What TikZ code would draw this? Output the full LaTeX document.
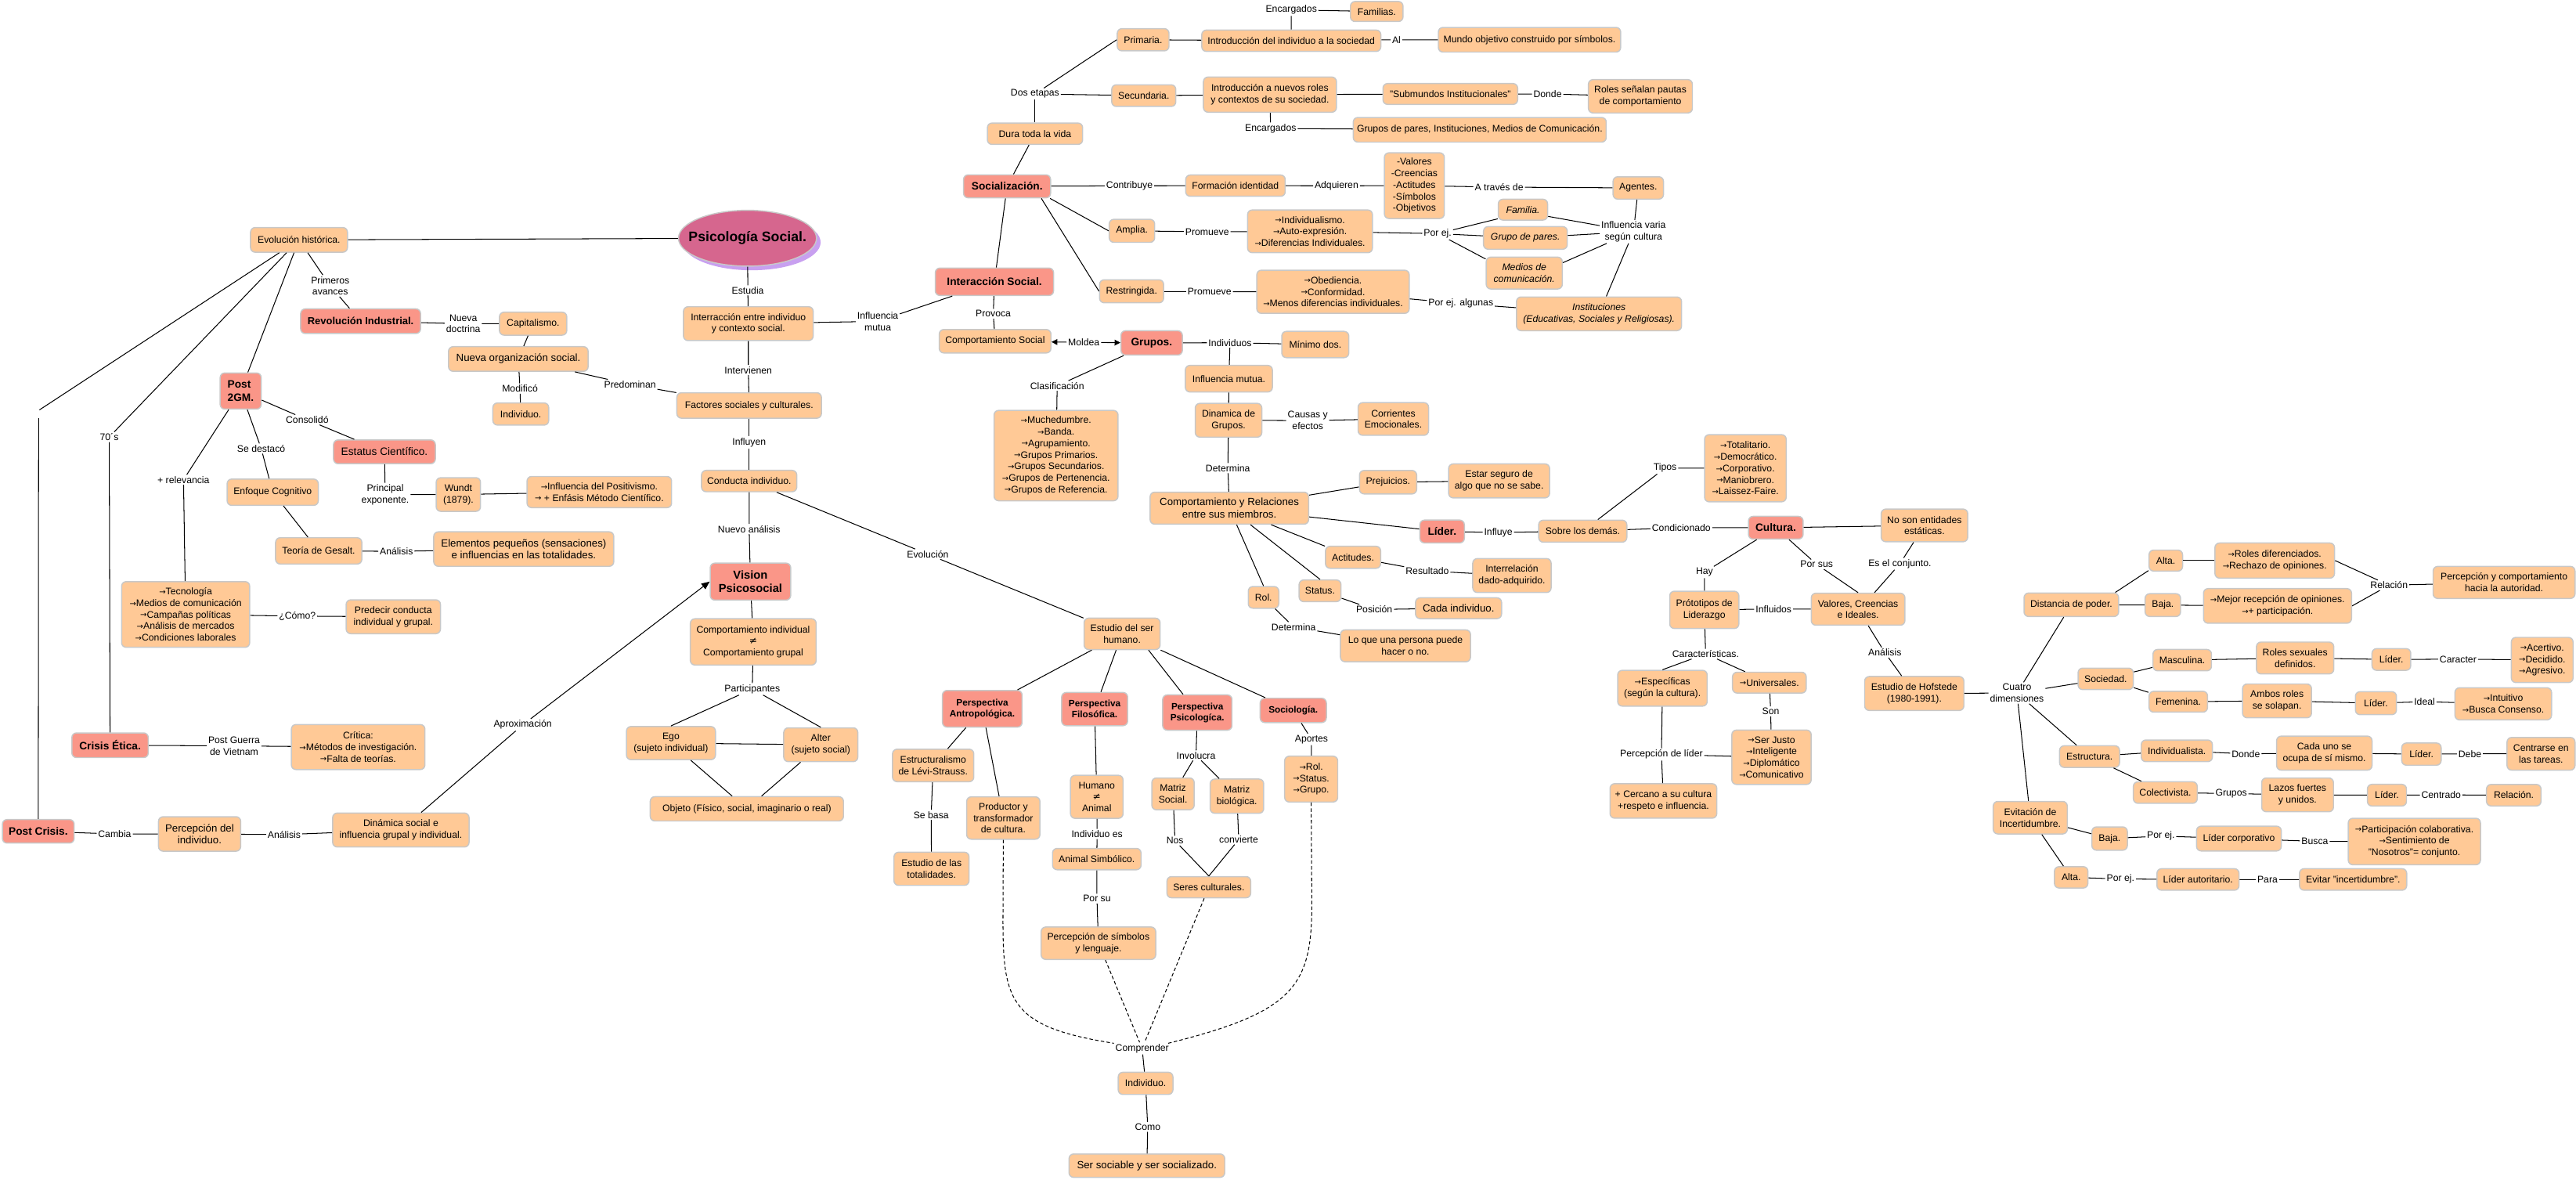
\documentclass[tikz,border=0pt]{standalone}
\usepackage{fontspec}
\setmainfont{Liberation Sans}
\newfontfamily\arfont{DejaVu Sans}
\usetikzlibrary{shapes.geometric,arrows.meta}
\definecolor{orng}{RGB}{255,201,150}
\definecolor{salm}{RGB}{250,150,136}
\definecolor{bord}{RGB}{200,200,200}
\definecolor{ellf}{RGB}{214,102,142}
\definecolor{ells}{RGB}{200,160,240}
\newcommand{\myar}{\raisebox{0.2pt}{\arfont\fontsize{6.8}{6.8}\selectfont →}}
\newcommand{\myne}{{\arfont ≠}}
\tikzset{
  bx/.style={draw=bord, line width=1pt, fill=orng, rounded corners=4pt, inner xsep=2pt, inner ysep=1pt, align=center, font=\fontsize{8.3}{10}\selectfont},
  hotbx/.style={bx, fill=salm, font=\bfseries\fontsize{9.3}{11}\selectfont},
  perbx/.style={bx, fill=salm, font=\bfseries\fontsize{8}{9.5}\selectfont},
  bigtxt/.style={font=\fontsize{9}{10.5}\selectfont},
  itbx/.style={bx, font=\itshape\fontsize{8.3}{10}\selectfont},
  lb/.style={inner sep=1pt, align=center, font=\fontsize{8.3}{10}\selectfont},
  sz/.style 2 args={minimum width=#1*0.05cm, minimum height=#2*0.05cm},
  dsh/.style={dash pattern=on 3pt off 2pt}
}
\begin{document}
\begin{tikzpicture}[x=0.05cm,y=-0.05cm,line width=0.7pt]
\useasboundingbox (0,0) rectangle (1568,718);

% ---------- left part
\node[bx,sz={59}{15}] (evol) at (182,146) {Evolución histórica.};
\node[ellipse,fill=ells,sz={84}{34},inner sep=0pt] (psicosh) at (457.5,147.5) {};
\node[ellipse,draw=bord,line width=1pt,fill=ellf,sz={84}{34},inner sep=0pt] (psico) at (455,145) {};
\node[font=\bfseries\fontsize{12}{14}\selectfont] (psicot) at (psico) {Psicología Social.};
\node[hotbx,sz={73}{15},font=\bfseries\fontsize{8.8}{10.5}\selectfont] (revind) at (219.5,195.5) {Revolución Industrial.};
\node[bx,sz={41}{14}] (capit) at (324.5,197) {Capitalismo.};
\node[bx,bigtxt,sz={85}{15}] (nuevaorg) at (315.5,218.5) {Nueva organización social.};
\node[bx,sz={34}{13.5}] (indiv1) at (317,252) {Individuo.};
\node[hotbx,sz={25}{22},align=left] (post2gm) at (146.5,238) {Post\\2GM.};
\node[bx,fill=salm,sz={62}{14.5},font=\fontsize{9.3}{11}\selectfont] (estatus) at (234,275) {Estatus Científico.};
\node[bx,sz={55.5}{16}] (enfoque) at (166,299.6) {Enfoque Cognitivo};
\node[bx,sz={27}{20.5}] (wundt) at (279,301) {Wundt\\(1879).};
\node[bx,sz={88}{19}] (positiv) at (364.8,299.5) {\myar Influencia del Positivismo.\\\myar\ + Enfásis Método Científico.};
\node[bx,sz={52.5}{16}] (gesalt) at (194,335.3) {Teoría de Gesalt.};
\node[bx,bigtxt,sz={109.6}{21}] (elem) at (318.8,334.2) {Elementos pequeños (sensaciones)\\e influencias en las totalidades.};
\node[bx,sz={78}{40}] (tecno) at (113,374) {\myar Tecnología\\\myar Medios de comunicación\\\myar Campañas políticas\\\myar Análisis de mercados\\\myar Condiciones laborales};
\node[bx,sz={57.4}{20.6}] (predecir) at (239.4,375.4) {Predecir conducta\\individual y grupal.};
\node[hotbx,sz={46.5}{15}] (crisis) at (67,453.6) {Crisis Ética.};
\node[bx,sz={81.3}{27.4}] (critica) at (218,454.7) {Crítica:\\\myar Métodos de investigación.\\\myar Falta de teorías.};
\node[hotbx,sz={43.7}{14.3}] (postcrisis) at (23.3,506) {Post Crisis.};
\node[bx,bigtxt,sz={50}{21}] (percind) at (121.5,507.6) {Percepción del\\individuo.};
\node[bx,sz={83}{20.7}] (dinsoc) at (244,505.2) {Dinámica social e\\influencia grupal y individual.};

\node[lb] (lPrim) at (201,174) {Primeros\\avances};
\node[lb] (lNueva) at (282,197) {Nueva\\doctrina};
\node[lb] (lModif) at (316.5,236.5) {Modificó};
\node[lb] (lPred) at (383.5,234) {Predominan};
\node[lb] (lConsol) at (187,255.5) {Consolidó};
\node[lb] (lSedest) at (159,273) {Se destacó};
\node[lb] (lRelev) at (111.7,292) {+ relevancia};
\node[lb] (lPrinc) at (234.5,301) {Principal\\exponente.};
\node[lb] (lAnal1) at (241.3,335.6) {Análisis};
\node[lb] (l70) at (66.5,266) {70´s};
\node[lb] (lComo) at (181,375) {¿Cómo?};
\node[lb] (lPostG) at (142.5,454) {Post Guerra\\de Vietnam};
\node[lb] (lCambia) at (69.8,507.6) {Cambia};
\node[lb] (lAnal2) at (173,508) {Análisis};
\node[lb] (lAprox) at (318.2,441.2) {Aproximación};
\coordinate (cL1) at (24,249.5);
\coordinate (cL2) at (23.5,254.5);

% ---------- centre column
\node[bx,sz={79}{20.6}] (interr) at (455.5,197) {Interracción entre individuo\\y contexto social.};
\node[bx,sz={88}{15.5}] (factores) at (456,246.8) {Factores sociales y culturales.};
\node[bx,sz={58}{13}] (conducta) at (456,292.8) {Conducta individuo.};
\node[hotbx,sz={49}{22.5},font=\bfseries\fontsize{10}{12}\selectfont] (vision) at (456.8,354) {Vision\\Psicosocial};
\node[bx,sz={76.6}{28.2}] (compind) at (458.5,390.7) {Comportamiento individual\\\myne\\Comportamiento grupal};
\node[bx,sz={54.2}{20.2}] (ego) at (408.4,452.3) {Ego\\(sujeto individual)};
\node[bx,sz={45.1}{20.6}] (alter) at (499.6,453.3) {Alter\\(sujeto social)};
\node[bx,sz={117.6}{14.8}] (objeto) at (454.6,492.3) {Objeto (Físico, social, imaginario o real)};

\node[lb] (lEstudia) at (455.2,176.7) {Estudia};
\node[lb] (lInterv) at (455.5,225.3) {Intervienen};
\node[lb] (lInfluyen) at (456,269.3) {Influyen};
\node[lb] (lNuevoAn) at (456,322) {Nuevo análisis};
\node[lb] (lEvol) at (564.7,337.3) {Evolución};
\node[lb] (lPart) at (457.9,419.4) {Participantes};
\node[lb] (lInfMut) at (534.3,195.6) {Influencia\\mutua};

% ---------- socialization
\node[hotbx,sz={72}{16.7}] (interacc) at (605.3,171.5) {Interacción Social.};
\node[bx,sz={68}{14.3}] (compsoc) at (605.7,207.7) {Comportamiento Social};
\node[hotbx,sz={37.4}{14.8}] (grupos) at (701,208.7) {Grupos.};
\node[hotbx,sz={53}{14}] (social) at (613,113.4) {Socialización.};
\node[bx,sz={58}{13}] (dura) at (630,81.4) {Dura toda la vida};
\node[bx,sz={31.5}{13.5}] (primaria) at (695.8,24.2) {Primaria.};
\node[bx,sz={109}{13}] (introind) at (786,24.8) {Introducción del individuo a la sociedad};
\node[bx,sz={32}{12.2}] (familias) at (838,7) {Familias.};
\node[bx,sz={111}{15}] (mundo) at (931,24.2) {Mundo objetivo construido por símbolos.};
\node[bx,sz={39}{13.2}] (secund) at (696.2,58.2) {Secundaria.};
\node[bx,sz={81}{21.4}] (intronuevos) at (773,57.6) {Introducción a nuevos roles\\y contextos de su sociedad.};
\node[bx,sz={82}{12.7}] (submundos) at (882.8,57.2) {"Submundos Institucionales"};
\node[bx,sz={63.3}{20.3}] (roles) at (998.5,58.6) {Roles señalan pautas\\de comportamiento};
\node[bx,sz={154}{15}] (gruposp) at (900.7,79) {Grupos de pares, Instituciones, Medios de Comunicación.};
\node[bx,sz={60.6}{13}] (formacion) at (752,113) {Formación identidad};
\node[bx,sz={36.5}{40}] (valores) at (860.9,113) {-Valores\\-Creencias\\-Actitudes\\-Símbolos\\-Objetivos};
\node[bx,sz={30.7}{13.6}] (agentes) at (997.2,114.4) {Agentes.};
\node[bx,sz={27.7}{14}] (amplia) at (689,140.5) {Amplia.};
\node[bx,sz={76}{26}] (individualismo) at (797.4,140.8) {\myar Individualismo.\\\myar Auto-expresión.\\\myar Diferencias Individuales.};
\node[itbx,sz={30}{12.7}] (familia) at (927,127.6) {Familia.};
\node[itbx,sz={51}{13.8}] (grupopares) at (928.5,144.8) {Grupo de pares.};
\node[itbx,sz={46.3}{19.4}] (medios) at (927.8,166.2) {Medios de\\comunicación.};
\node[bx,sz={39}{14}] (restring) at (688.8,177.3) {Restringida.};
\node[bx,sz={92.8}{26.3}] (obed) at (811.4,177.6) {\myar Obediencia.\\\myar Conformidad.\\\myar Menos diferencias individuales.};
\node[itbx,sz={100.5}{20.5}] (instit) at (973.3,191) {Instituciones\\(Educativas, Sociales y Religiosas).};

\node[lb] (lProvoca) at (604.6,191) {Provoca};
\node[lb] (lMoldea) at (659.7,208.4) {Moldea};
\node[lb] (lDos) at (630,57.2) {Dos etapas};
\node[lb] (lEnc1) at (786,6) {Encargados};
\node[lb] (lAl) at (850,24.2) {Al};
\node[lb] (lDonde) at (942,57.2) {Donde};
\node[lb] (lEnc2) at (773.4,78.2) {Encargados};
\node[lb] (lContrib) at (687.5,113.1) {Contribuye};
\node[lb] (lAdq) at (813.5,113.1) {Adquieren};
\node[lb] (lAtraves) at (912.5,113.9) {A través de};
\node[lb] (lInfVar) at (994.3,141) {Influencia varia\\según cultura};
\node[lb] (lProm1) at (734.8,141.1) {Promueve};
\node[lb] (lPorej1) at (875.1,142.2) {Por ej.};
\node[lb] (lProm2) at (736.2,177.6) {Promueve};
\node[lb] (lPorejalg) at (889.2,184.8) {Por ej. algunas};

% ---------- groups
\node[bx,sz={40.8}{16}] (minimo) at (800.6,209.7) {Mínimo dos.};
\node[bx,sz={53}{16.2}] (infmutua) at (748,230.5) {Influencia mutua.};
\node[bx,sz={40.5}{20.6}] (dinamica) at (747.8,255.8) {Dinamica de\\Grupos.};
\node[bx,sz={42.9}{19.9}] (corrientes) at (848.1,255) {Corrientes\\Emocionales.};
\node[bx,sz={75.5}{55}] (much) at (642.8,277.3) {\myar Muchedumbre.\\\myar Banda.\\\myar Agrupamiento.\\\myar Grupos Primarios.\\\myar Grupos Secundarios.\\\myar Grupos de Pertenencia.\\\myar Grupos de Referencia.};
\node[bx,bigtxt,sz={96.5}{19.5}] (cyr) at (748.3,309.3) {Comportamiento y Relaciones\\entre sus miembros.};
\node[bx,sz={34.8}{14.3}] (prejuicios) at (844.9,293.5) {Prejuicios.};
\node[bx,sz={61.5}{20.7}] (estar) at (912.5,292.7) {Estar seguro de\\algo que no se sabe.};
\node[hotbx,sz={27.1}{13.9}] (lider) at (877.8,323.5) {Líder.};
\node[bx,sz={53.7}{13.4}] (sobre) at (963.4,323.3) {Sobre los demás.};
\node[hotbx,sz={33.3}{13.8}] (cultura) at (1080.9,321.2) {Cultura.};
\node[bx,sz={49.7}{40.9}] (totalit) at (1062.4,285) {\myar Totalitario.\\\myar Democrático.\\\myar Corporativo.\\\myar Maniobrero.\\\myar Laissez-Faire.};
\node[bx,sz={33.6}{13.4}] (actitudes) at (823.6,339.2) {Actitudes.};
\node[bx,sz={47.7}{20.7}] (interrel) at (920.3,350.3) {Interrelación\\dado-adquirido.};
\node[bx,sz={25.5}{13.2}] (status) at (803.5,359.6) {Status.};
\node[bx,bigtxt,sz={52.4}{12.7}] (cada) at (887.8,370.2) {Cada individuo.};
\node[bx,sz={18.6}{13.2}] (rol) at (769.1,363.6) {Rol.};
\node[bx,sz={79.2}{19.4}] (loque) at (855.5,393.1) {Lo que una persona puede\\hacer o no.};

\node[lb] (lIndiv) at (748.7,208.6) {Individuos};
\node[lb] (lClasif) at (643.5,234.8) {Clasificación};
\node[lb] (lCausas) at (796,256) {Causas y\\efectos};
\node[lb] (lDet1) at (747.4,284.9) {Determina};
\node[lb] (lInfluye) at (912,324.1) {Influye};
\node[lb] (lCond) at (1023.4,321.2) {Condicionado};
\node[lb] (lTipos) at (1013.5,284.9) {Tipos};
\node[lb] (lResult) at (868.8,347.5) {Resultado};
\node[lb] (lPos) at (836.5,371) {Posición};
\node[lb] (lDet2) at (787.4,381.6) {Determina};

% ---------- culture
\node[bx,sz={52.7}{19.9}] (nosont) at (1171.4,319.8) {No son entidades\\estáticas.};
\node[bx,sz={42.1}{22.7}] (prototipos) at (1037.4,371.2) {Prótotipos de\\Liderazgo};
\node[bx,sz={57}{19.5}] (valoresc) at (1131,370.8) {Valores, Creencias\\e Ideales.};
\node[bx,sz={54.5}{21.8}] (especif) at (1011.9,418.9) {\myar Específicas\\(según la cultura).};
\node[bx,sz={44.9}{12.7}] (univ) at (1077,415.5) {\myar Universales.};
\node[bx,sz={48.3}{33.1}] (serjusto) at (1078.3,460.9) {\myar Ser Justo\\\myar Inteligente\\\myar Diplomático\\\myar Comunicativo};
\node[bx,sz={65}{21}] (cercano) at (1012.5,487.5) {+ Cercano a su cultura\\+respeto e influencia.};
\node[bx,sz={60.4}{20.7}] (hofstede) at (1165.2,422.1) {Estudio de Hofstede\\(1980-1991).};

\node[lb] (lHay) at (1037.5,348.3) {Hay};
\node[lb] (lPorsus) at (1105.8,343.5) {Por sus};
\node[lb] (lEsel) at (1156.4,343.2) {Es el conjunto.};
\node[lb] (lInfluidos) at (1079.6,370.7) {Influidos};
\node[lb] (lCaract) at (1038.2,398) {Características.};
\node[lb] (lSon) at (1077.8,433) {Son};
\node[lb] (lPercLider) at (1011.3,459.2) {Percepción de líder};
\node[lb] (lAnal3) at (1147.3,397.2) {Análisis};
\node[lb] (lCuatro) at (1227.7,421.8) {Cuatro\\dimensiones};

% ---------- Hofstede dimensions
\node[bx,sz={57.6}{14.3}] (distancia) at (1260.8,368.1) {Distancia de poder.};
\node[bx,sz={20.4}{12.8}] (alta1) at (1318.3,341.2) {Alta.};
\node[bx,sz={21.6}{13.9}] (baja1) at (1316.5,368.3) {Baja.};
\node[bx,sz={72.8}{21.4}] (rolesdif) at (1384.6,341.2) {\myar Roles diferenciados.\\\myar Rechazo de opiniones.};
\node[bx,sz={90.1}{21.1}] (mejor) at (1386.3,368.8) {\myar Mejor recepción de opiniones.\\\myar + participación.};
\node[bx,sz={86.4}{19.5}] (percaut) at (1524.2,354.5) {Percepción y comportamiento\\hacia la autoridad.};
\node[bx,sz={33.6}{13.1}] (sociedad) at (1281.7,413.2) {Sociedad.};
\node[bx,sz={35.6}{13}] (masc) at (1328.3,401.8) {Masculina.};
\node[bx,sz={35.6}{12.7}] (fem) at (1325.9,427.1) {Femenina.};
\node[bx,sz={47.1}{19.4}] (rolessex) at (1397,400.5) {Roles sexuales\\definidos.};
\node[bx,sz={23.6}{13.2}] (lider1) at (1455.6,401.4) {Líder.};
\node[bx,sz={37.6}{27.5}] (acert) at (1547.4,401.7) {\myar Acertivo.\\\myar Decidido.\\\myar Agresivo.};
\node[bx,sz={42}{20.6}] (ambos) at (1386,426.6) {Ambos roles\\se solapan.};
\node[bx,sz={25}{14}] (lider2) at (1446.2,428) {Líder.};
\node[bx,sz={58.8}{19.6}] (intuit) at (1523.7,428.4) {\myar Intuitivo\\\myar Busca Consenso.};
\node[bx,sz={36.5}{13.2}] (estructura) at (1271.9,460.5) {Estructura.};
\node[bx,sz={43.3}{13.2}] (individ) at (1325,457) {Individualista.};
\node[bx,sz={58.1}{20.7}] (cadauno) at (1414.8,458.4) {Cada uno se\\ocupa de sí mismo.};
\node[bx,sz={24}{13.5}] (lider3) at (1473.9,459) {Líder.};
\node[bx,sz={41.4}{19.9}] (centrarse) at (1546.7,458.8) {Centrarse en\\las tareas.};
\node[bx,sz={38.9}{13.1}] (colect) at (1318,482.4) {Colectivista.};
\node[bx,sz={43.7}{20.6}] (lazos) at (1398.5,483.8) {Lazos fuertes\\y unidos.};
\node[bx,sz={23.8}{13.2}] (lider4) at (1452.9,484) {Líder.};
\node[bx,sz={33.2}{13.1}] (relacion) at (1530.1,484) {Relación.};
\node[bx,sz={45.1}{19.8}] (evitacion) at (1235.8,497.7) {Evitación de\\Incertidumbre.};
\node[bx,sz={21.6}{14.2}] (baja2) at (1284.1,510.4) {Baja.};
\node[bx,sz={51.6}{15.1}] (lidercorp) at (1362.8,510.4) {Líder corporativo};
\node[bx,sz={80.5}{28.3}] (particip) at (1469.6,512.2) {\myar Participación colaborativa.\\\myar Sentimiento de\\"Nosotros"= conjunto.};
\node[bx,sz={20.4}{13}] (alta2) at (1260.7,534) {Alta.};
\node[bx,sz={50}{13.1}] (liderauto) at (1337.9,535.3) {Líder autoritario.};
\node[bx,sz={65.3}{13.1}] (evitar) at (1432.3,535.3) {Evitar "incertidumbre".};

\node[lb] (lRel) at (1454.2,356.2) {Relación};
\node[lb] (lCaracter) at (1496.2,401.2) {Caracter};
\node[lb] (lIdeal) at (1475.8,427.1) {Ideal};
\node[lb] (lDonde2) at (1367,458.8) {Donde};
\node[lb] (lDebe) at (1503.4,458.8) {Debe};
\node[lb] (lGrupos) at (1358.1,483) {Grupos};
\node[lb] (lCentrado) at (1485.9,483.8) {Centrado};
\node[lb] (lPorej2) at (1315.3,508.9) {Por ej.};
\node[lb] (lBusca) at (1409,512.1) {Busca};
\node[lb] (lPorej3) at (1290.8,535) {Por ej.};
\node[lb] (lPara) at (1380.2,535.4) {Para};

% ---------- study of the human being
\node[bx,sz={46.3}{19.1}] (estudio) at (683,385.8) {Estudio del ser\\humano.};
\node[perbx,sz={48.5}{22.3}] (pa) at (597.9,431.4) {Perspectiva\\Antropológica.};
\node[perbx,sz={40.2}{20.2}] (pf) at (666.3,431.6) {Perspectiva\\Filosófica.};
\node[perbx,sz={42.2}{21.5}] (pp) at (728.8,433.7) {Perspectiva\\Psicologíca.};
\node[perbx,sz={40.3}{14.8}] (socio) at (787.2,432.4) {Sociología.};
\node[bx,sz={49.5}{19.8}] (estruct) at (568,465.9) {Estructuralismo\\de Lévi-Strauss.};
\node[bx,sz={44.6}{25.8}] (productor) at (610.7,497.9) {Productor y\\transformador\\de cultura.};
\node[bx,sz={45.7}{20.2}] (estudiotot) at (567,528.8) {Estudio de las\\totalidades.};
\node[bx,sz={32}{26.2}] (humano) at (667.6,485) {Humano\\\myne\\Animal};
\node[bx,sz={53.9}{13}] (animalsim) at (667.6,522.9) {Animal Simbólico.};
\node[bx,sz={69.8}{19.7}] (percsim) at (668.6,574.1) {Percepción de símbolos\\y lenguaje.};
\node[bx,sz={25.8}{19.4}] (matrizsoc) at (714,483.2) {Matriz\\Social.};
\node[bx,sz={32.6}{20.8}] (matrizbio) at (752.9,484.6) {Matriz\\biológica.};
\node[bx,sz={51}{12.9}] (seres) at (735.8,540) {Seres culturales.};
\node[bx,sz={32.3}{27.9}] (rsg) at (798.1,474.2) {\myar Rol.\\\myar Status.\\\myar Grupo.};
\node[bx,sz={33.3}{13.5}] (indiv2) at (697.3,659.4) {Individuo.};
\node[bx,bigtxt,sz={94.8}{14.2}] (sersoc) at (698.1,709.5) {Ser sociable y ser socializado.};

\node[lb] (lSebasa) at (566.8,496) {Se basa};
\node[lb] (lIndEs) at (667.8,507.6) {Individuo es};
\node[lb] (lPorsu) at (667.7,546.9) {Por su};
\node[lb] (lInvol) at (728,459.8) {Involucra};
\node[lb] (lNos) at (715.2,511.7) {Nos};
\node[lb] (lConv) at (754,511) {convierte};
\node[lb] (lAportes) at (798.3,450) {Aportes};
\node[lb] (lCompr) at (695.2,638.1) {Comprender};
\node[lb] (lComoB) at (698.6,685.9) {Como};
\coordinate (cP) at (610.5,560);
\coordinate (cR) at (798.5,550);
\coordinate (cC1) at (678,635);
\coordinate (cC2) at (711,635);

% ================= connectors
\draw (evol) -- (psico);
\draw (evol) -- (lPrim) -- (revind);
\draw (revind) -- (lNueva) -- (capit);
\draw (capit) -- (nuevaorg);
\draw (nuevaorg) -- (lModif) -- (indiv1);
\draw (nuevaorg) -- (lPred) -- (factores);
\draw (evol) -- (post2gm);
\draw (evol) -- (l70) -- (crisis);
\draw (evol) -- (cL1);
\draw (cL2) -- (postcrisis);
\draw (post2gm) -- (lConsol) -- (estatus);
\draw (post2gm) -- (lSedest) -- (enfoque);
\draw (post2gm) -- (lRelev) -- (tecno);
\draw (estatus) -- (lPrinc) -- (wundt);
\draw (wundt) -- (positiv);
\draw (enfoque) -- (gesalt);
\draw (gesalt) -- (lAnal1) -- (elem);
\draw (tecno) -- (lComo) -- (predecir);
\draw (crisis) -- (lPostG) -- (critica);
\draw (postcrisis) -- (lCambia) -- (percind) -- (lAnal2) -- (dinsoc);
\draw (dinsoc) -- (lAprox);
\draw[-{Triangle[length=7pt,width=6pt]}] (lAprox) -- (vision.west);

\draw (psico) -- (lEstudia) -- (interr);
\draw (interr) -- (lInterv) -- (factores);
\draw (factores) -- (lInfluyen) -- (conducta);
\draw (conducta) -- (lNuevoAn) -- (vision);
\draw (conducta) -- (lEvol) -- (estudio);
\draw (vision) -- (compind);
\draw (compind) -- (lPart);
\draw (lPart) -- (ego.north);
\draw (lPart) -- (alter.north);
\draw (ego) -- (alter);
\draw (ego) -- (objeto);
\draw (alter) -- (objeto);
\draw (interr) -- (lInfMut) -- (interacc);

\draw (interacc) -- (lProvoca) -- (compsoc);
\draw[{Triangle[length=5pt,width=5pt]}-] (compsoc) -- (lMoldea);
\draw[-{Triangle[length=5pt,width=5pt]}] (lMoldea) -- (grupos);
\draw (interacc) -- (social);
\draw (social) -- (dura);
\draw (dura) -- (lDos);
\draw (lDos) -- (primaria.west);
\draw (lDos) -- (secund);
\draw (primaria) -- (introind);
\draw (introind) -- (lEnc1) -- (familias);
\draw (introind) -- (lAl) -- (mundo);
\draw (secund) -- (intronuevos);
\draw (intronuevos) -- (submundos);
\draw (submundos) -- (lDonde) -- (roles);
\draw (intronuevos) -- (lEnc2) -- (gruposp);
\draw (social) -- (lContrib) -- (formacion);
\draw (formacion) -- (lAdq) -- (valores);
\draw (valores) -- (lAtraves) -- (agentes);
\draw (agentes) -- (lInfVar) -- (instit);
\draw ([xshift=-1pt]social.south east) -- (amplia.west);
\draw ([xshift=-0.3cm]social.south east) -- (restring.west);
\draw (amplia) -- (lProm1) -- (individualismo);
\draw (individualismo) -- (lPorej1);
\draw (lPorej1) -- (familia.200);
\draw (lPorej1) -- (grupopares);
\draw (lPorej1) -- (medios.160);
\draw (familia.-15) -- (lInfVar);
\draw (grupopares) -- (lInfVar);
\draw (medios.15) -- (lInfVar);
\draw (restring) -- (lProm2) -- (obed);
\draw (obed) -- (lPorejalg) -- (instit);

\draw (grupos) -- (lIndiv) -- (minimo);
\draw (lIndiv) -- (infmutua);
\draw (infmutua) -- (dinamica);
\draw (dinamica) -- (lCausas) -- (corrientes);
\draw (dinamica) -- (lDet1) -- (cyr);
\draw (grupos) -- (lClasif) -- (much);
\draw (cyr) -- (prejuicios);
\draw (prejuicios) -- (estar);
\draw (cyr) -- (lider);
\draw (lider) -- (lInfluye) -- (sobre);
\draw (sobre) -- (lCond) -- (cultura);
\draw (sobre) -- (lTipos) -- (totalit);
\draw (cyr) -- (actitudes);
\draw (actitudes) -- (lResult) -- (interrel);
\draw (cyr) -- (status.north);
\draw (status) -- (lPos) -- (cada);
\draw (cyr) -- (rol.north);
\draw (rol) -- (lDet2) -- (loque);

\draw (cultura) -- (nosont);
\draw (cultura) -- (lHay) -- (prototipos);
\draw (cultura) -- (lPorsus) -- (valoresc.north);
\draw (nosont) -- (lEsel) -- ([xshift=0.5cm]valoresc.north);
\draw (prototipos) -- (lInfluidos) -- (valoresc);
\draw (prototipos) -- (lCaract);
\draw (lCaract) -- (especif.north);
\draw (lCaract) -- (univ);
\draw (univ) -- (lSon) -- (serjusto);
\draw (especif) -- (lPercLider) -- (cercano);
\draw (lPercLider) -- (serjusto);
\draw (valoresc) -- (lAnal3) -- (hofstede);
\draw (hofstede) -- (lCuatro);

\draw (lCuatro) -- (distancia);
\draw ([xshift=-0.12cm]distancia.north east) -- (alta1.210);
\draw (distancia) -- (baja1);
\draw (alta1) -- (rolesdif);
\draw (baja1) -- (mejor);
\draw (rolesdif.east) -- (lRel);
\draw (mejor.east) -- (lRel);
\draw (lRel) -- (percaut);
\draw (lCuatro) -- (sociedad);
\draw (sociedad) -- (masc);
\draw (sociedad) -- (fem);
\draw (masc) -- (rolessex) -- (lider1) -- (lCaracter) -- (acert);
\draw (fem) -- (ambos) -- (lider2) -- (lIdeal) -- (intuit);
\draw (lCuatro) -- (estructura);
\draw (estructura) -- (individ) -- (lDonde2) -- (cadauno) -- (lider3) -- (lDebe) -- (centrarse);
\draw (estructura) -- (colect) -- (lGrupos) -- (lazos) -- (lider4) -- (lCentrado) -- (relacion);
\draw (lCuatro) -- (evitacion);
\draw (evitacion) -- (baja2) -- (lPorej2) -- (lidercorp) -- (lBusca) -- (particip);
\draw (evitacion) -- (alta2) -- (lPorej3) -- (liderauto) -- (lPara) -- (evitar);

\draw (estudio) -- (pa);
\draw (estudio) -- (pf);
\draw ([xshift=-0.37cm]estudio.south east) -- (pp);
\draw (estudio.south east) -- (socio);
\draw (pa) -- (estruct);
\draw (pa) -- (productor);
\draw (estruct) -- (lSebasa) -- (estudiotot);
\draw (pf) -- (humano) -- (lIndEs) -- (animalsim) -- (lPorsu) -- (percsim);
\draw (pp) -- (lInvol);
\draw (lInvol) -- (matrizsoc);
\draw (lInvol) -- (matrizbio);
\draw (matrizsoc) -- (lNos) -- (seres.north);
\draw (matrizbio) -- (lConv) -- (seres.north);
\draw (socio) -- (lAportes) -- (rsg);
\draw[dsh] (productor.south) -- (cP) .. controls (610.5,610) and (615,625) .. (cC1);
\draw[dsh] (percsim) -- (lCompr);
\draw[dsh] (seres) -- (lCompr);
\draw[dsh] (rsg.south) -- (cR) .. controls (798.5,600) and (788,616) .. (cC2);
\draw (lCompr) -- (indiv2) -- (lComoB) -- (sersoc);
\end{tikzpicture}
\end{document}
